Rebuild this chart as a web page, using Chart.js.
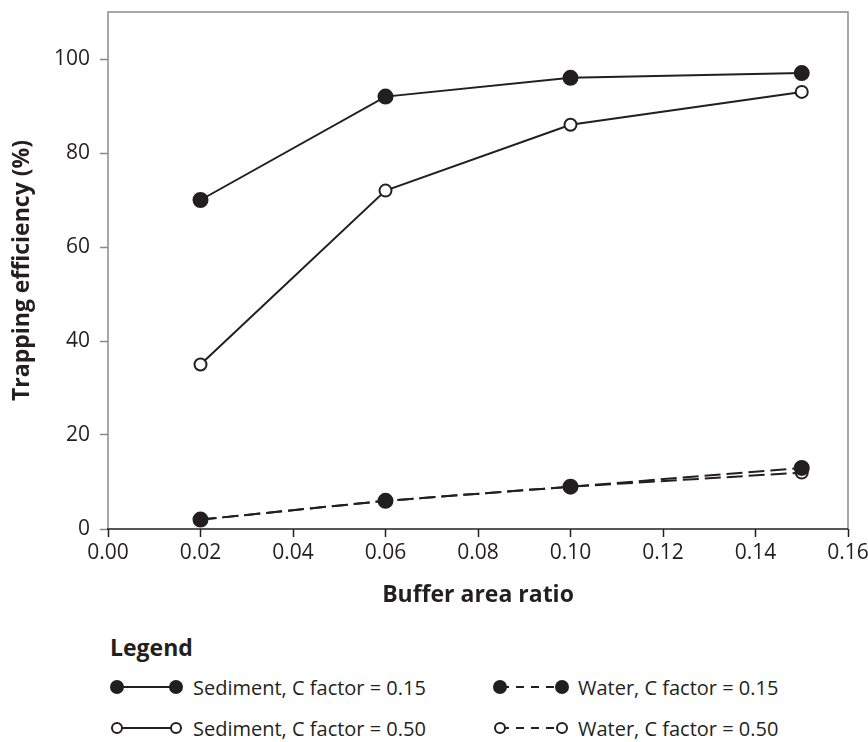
<!DOCTYPE html>
<html>
<head>
<meta charset="utf-8">
<script src="https://cdn.jsdelivr.net/npm/chart.js@4.4.1/dist/chart.umd.min.js"></script>
<style>
  body { margin: 0; background: #fff; font-family: "Open Sans", Roboto, sans-serif; color: #231f20; }
  #wrap { position: relative; width: 868px; height: 615px; }
  #legendTitle { position: absolute; left: 110px; top: 632px; font-size: 23px; line-height: 30px; font-weight: 700; }
  .item { position: absolute; display: flex; align-items: center; height: 26px; font-size: 20px; white-space: nowrap; }
</style>
</head>
<body>
<div id="wrap"><canvas id="chart"></canvas></div>
<div id="legendTitle">Legend</div>
<div id="legendItems"></div>
<script>
// ==================== DATA ====================
const bufferRatio = [0.02, 0.06, 0.10, 0.15];
const sediment015 = [70, 92, 96, 97];
const sediment050 = [35, 72, 86, 93];
const water015 = [2, 6, 9, 13];
const water050 = [2, 6, 9, 12];
const xTicks = [0, 0.02, 0.04, 0.06, 0.08, 0.10, 0.12, 0.14, 0.16];
const yTicks = [0, 20, 40, 60, 80, 100];

const ink = '#231f20';
const grey = '#8a8a8a';

function toPoints(values) {
  return values.map((v, i) => ({ x: bufferRatio[i], y: v }));
}

const series = [
  { label: 'Sediment, C factor = 0.15', values: sediment015, filled: true, dashed: false },
  { label: 'Sediment, C factor = 0.50', values: sediment050, filled: false, dashed: false },
  { label: 'Water, C factor = 0.15', values: water015, filled: true, dashed: true },
  { label: 'Water, C factor = 0.50', values: water050, filled: false, dashed: true }
];

// ==================== BORDER BOX ====================
const frame = {
  id: 'frame',
  afterDraw(chart) {
    const { ctx, chartArea: a } = chart;
    ctx.save();
    ctx.lineWidth = 1.5;
    ctx.strokeStyle = grey;
    ctx.beginPath();
    ctx.moveTo(a.left, a.bottom);
    ctx.lineTo(a.left, a.top);
    ctx.lineTo(a.right, a.top);
    ctx.lineTo(a.right, a.bottom);
    ctx.stroke();
    ctx.strokeStyle = ink;
    ctx.beginPath();
    ctx.moveTo(a.left - 1, a.bottom);
    ctx.lineTo(a.right, a.bottom);
    ctx.stroke();
    ctx.restore();
  }
};

// ==================== CHART ====================
const ctx = document.getElementById('chart');

new Chart(ctx, {
  type: 'line',
  data: {
    datasets: series.map(s => ({
      label: s.label,
      data: toPoints(s.values),
      borderColor: ink,
      borderWidth: 2,
      borderDash: s.dashed ? [16, 6] : [],
      pointRadius: s.filled ? 7 : 6,
      pointBorderWidth: 2,
      pointBackgroundColor: s.filled ? ink : '#fff',
      pointBorderColor: ink,
      fill: false,
      tension: 0
    }))
  },
  options: {
    responsive: true,
    maintainAspectRatio: false,
    animation: false,
    layout: { padding: { top: 12, right: 20, left: 0, bottom: 0 } },
    plugins: {
      legend: { display: false },
      tooltip: { enabled: false }
    },
    scales: {
      x: {
        type: 'linear',
        min: 0,
        max: 0.16,
        afterBuildTicks: scale => { scale.ticks = xTicks.map(v => ({ value: v })); },
        afterFit: scale => {
          scale.height = 86;
          scale.paddingLeft = 0;
          scale.paddingRight = 0;
        },
        grid: { drawOnChartArea: false, tickLength: 8, tickColor: ink, tickWidth: 1.5 },
        border: { display: false },
        ticks: {
          color: ink,
          padding: 3,
          maxRotation: 0,
          autoSkip: false,
          font: { family: 'Open Sans', size: 21 },
          callback: v => v.toFixed(2)
        },
        title: {
          display: true,
          text: 'Buffer area ratio',
          color: ink,
          padding: { top: 0, bottom: 6 },
          font: { family: 'Open Sans', size: 23, weight: 'bold' }
        }
      },
      y: {
        min: 0,
        max: 110,
        afterBuildTicks: scale => { scale.ticks = yTicks.map(v => ({ value: v })); },
        afterFit: scale => {
          scale.width = 108;
          scale.paddingTop = 0;
          scale.paddingBottom = 0;
        },
        grid: { drawOnChartArea: false, tickLength: 8, tickColor: grey, tickWidth: 1.5 },
        border: { display: false },
        ticks: {
          color: ink,
          padding: 10,
          font: { family: 'Open Sans', size: 21 }
        },
        title: {
          display: true,
          text: 'Trapping efficiency (%)',
          color: ink,
          padding: { top: 9, bottom: 0 },
          font: { family: 'Open Sans', size: 23, weight: 'bold' }
        }
      }
    }
  },
  plugins: [frame]
});

// ==================== HTML LEGEND ====================
const legendItems = document.getElementById('legendItems');
const slots = [
  { left: 110, top: 674, width: 73, gap: 10 },  // Sediment 0.15
  { left: 110, top: 715, width: 73, gap: 10 },  // Sediment 0.50
  { left: 493, top: 674, width: 76, gap: 9 },   // Water 0.15
  { left: 493, top: 715, width: 76, gap: 9 }    // Water 0.50
];

series.forEach((s, i) => {
  const slot = slots[i];
  const fill = s.filled ? ink : '#fff';
  const r = s.filled ? 6 : 5;
  const w = slot.width;
  const dash = s.dashed ? 'stroke-dasharray="8 7" stroke-dashoffset="-1"' : '';
  const item = document.createElement('div');
  item.className = 'item';
  item.style.left = slot.left + 'px';
  item.style.top = slot.top + 'px';
  item.innerHTML =
    `<svg width="${w}" height="18" viewBox="0 0 ${w} 18" style="margin-right:${slot.gap}px">
       <line x1="7" y1="9" x2="${w - 7}" y2="9" stroke="${ink}" stroke-width="2" ${dash}/>
       <circle cx="7" cy="9" r="${r}" fill="${fill}" stroke="${ink}" stroke-width="2"/>
       <circle cx="${w - 7}" cy="9" r="${r}" fill="${fill}" stroke="${ink}" stroke-width="2"/>
     </svg><span>${s.label}</span>`;
  legendItems.appendChild(item);
});
</script>
</body>
</html>
